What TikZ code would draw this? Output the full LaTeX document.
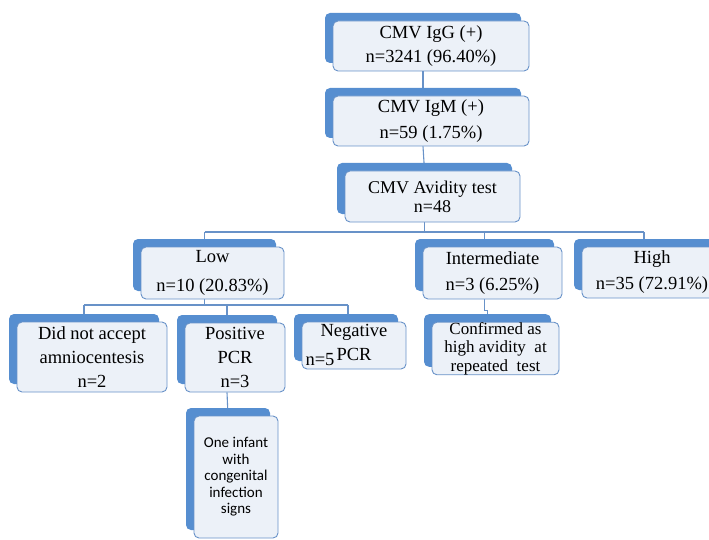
\documentclass[tikz,border=0pt]{standalone}
\usepackage{fontspec}
\setmainfont{Liberation Serif}
\newfontfamily\calibrifont{Carlito}
\usetikzlibrary{shadows,backgrounds}
\definecolor{backblue}{RGB}{86,142,208}
\definecolor{boxfill}{RGB}{236,241,248}
\definecolor{edgeblue}{RGB}{104,146,200}
\tikzset{
  card/.style={draw=edgeblue, line width=0.9pt, fill=boxfill, rounded corners=5pt,
    inner sep=0pt, align=center,
    copy shadow={shadow xshift=-8pt, shadow yshift=8pt, fill=backblue, draw=none},
    font=\fontsize{18.5}{24}\selectfont},
  conn/.style={draw=edgeblue, line width=1.1pt}
}
\begin{document}
\begin{tikzpicture}[x=1pt,y=-1pt]
	\useasboundingbox (0,0) rectangle (709,540);
	\clip (0,0) rectangle (709,540);
	% top chain
	\node [card, minimum width=196pt, minimum height=50pt] (igg) at (431,46) {CMV IgG (+)\\n=3241 (96.40\%)};
	\node [card, minimum width=196pt, minimum height=50pt, font=\fontsize{18.5}{26}\selectfont] (igm) at (431,121) {CMV IgM (+)\\n=59 (1.75\%)};
	\node [card, minimum width=175pt, minimum height=51pt, font=\fontsize{18}{19}\selectfont] (avid) at (432.5,196.5) {CMV Avidity test\\n=48};
	% avidity levels
	\node [card, minimum width=143pt, minimum height=52pt, font=\fontsize{18.5}{29}\selectfont] (low) at (212.5,273) {Low\\n=10 (20.83\%)};
	\node [card, minimum width=139pt, minimum height=52pt, font=\fontsize{18.5}{26}\selectfont] (inter) at (492.5,273) {Intermediate\\n=3 (6.25\%)};
	\node [card, minimum width=140pt, minimum height=51pt, font=\fontsize{18.5}{26}\selectfont] (high) at (652,272.5) {High\\n=35 (72.91\%)};
	% low avidity outcomes
	\node [card, minimum width=150pt, minimum height=70pt] (dna) at (92,357) {Did not accept\\amniocentesis\\n=2};
	\node [card, minimum width=100pt, minimum height=69pt] (pos) at (235,357.5) {Positive\\PCR\\n=3};
	\node [card, minimum width=104pt, minimum height=47pt, text depth=6pt] (neg) at (354,345.5) {Negative\\PCR};
	\node [font=\fontsize{18.5}{24}\selectfont] (negn) at (320,360) {n=5};
	\node [card, minimum width=127pt, minimum height=51pt, font=\fontsize{17}{18.5}\selectfont] (conf) at (495.5,348.5) {Confirmed as\\high avidity\ \ at\\repeated\ \ test};
	\node [card, minimum width=84pt, minimum height=122pt, font=\calibrifont\fontsize{15}{16.5}\selectfont] (infant) at (236,477) {One infant\\with\\congenital\\infection\\signs};
	% connectors
	\begin{scope}[on background layer]
	\coordinate (bar) at (0,232);
	\coordinate (lowbar) at (0,305);
	\draw [conn] ([xshift=-8pt]igg.south) -- ([xshift=-8pt]igm.north);
	\draw [conn] ([xshift=-8pt]igm.south) -- ([xshift=-8pt]avid.north);
	\draw [conn] ([xshift=-8pt]avid.south) -- ([xshift=-8pt]avid.south |- bar);
	\draw [conn] ([xshift=-8pt]low.north |- bar) -- ([xshift=-8pt]high.north |- bar);
	\foreach \lvl in {low,inter,high}
		\draw [conn] ([xshift=-8pt]\lvl.north |- bar) -- ([xshift=-8pt]\lvl.north);
	\draw [conn] ([xshift=-8pt]low.south) -- ([xshift=-8pt]low.south |- lowbar);
	\draw [conn] ([xshift=-8pt]dna.north |- lowbar) -- ([xshift=-6pt]neg.north |- lowbar);
	\foreach \kid in {dna,pos}
		\draw [conn] ([xshift=-8pt]\kid.north |- lowbar) -- ([xshift=-8pt]\kid.north);
	\draw [conn] ([xshift=-6pt]neg.north |- lowbar) -- ([xshift=-6pt]neg.north);
	\draw [conn] ([xshift=-8pt]inter.south) -- ++(0,11) -| ([xshift=-8pt]conf.north);
	\draw [conn] ([xshift=-8pt]pos.south) -- ([xshift=-8pt]infant.north);
	\end{scope}
\end{tikzpicture}
\end{document}
